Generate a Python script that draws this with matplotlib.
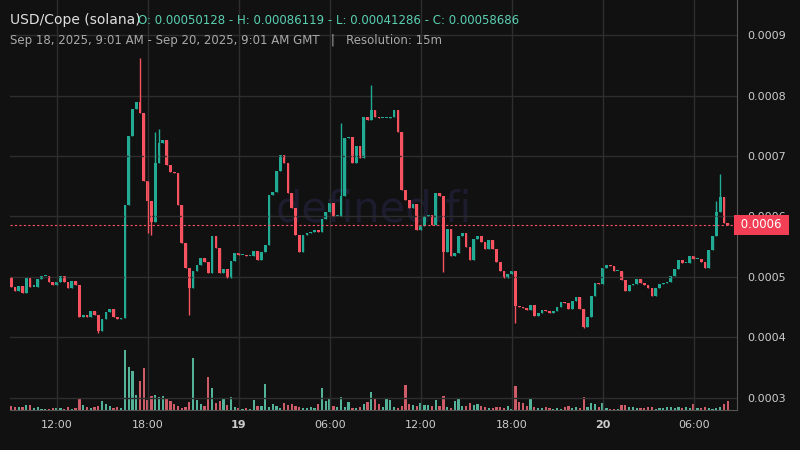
import matplotlib.pyplot as plt
import numpy as np

# prices in units of 1e-4, one 15m candle each, starting Sep 18 09:00
first_open = 5.00
closes = [
    4.84, 4.76, 4.85, 4.74, 4.99, 4.84, 4.84, 4.97, 5.01, 5.02,
    4.91, 4.86, 4.91, 5.01, 4.92, 4.81, 4.93, 4.86, 4.33, 4.37,
    4.33, 4.43, 4.37, 4.11, 4.31, 4.42, 4.47, 4.34, 4.30, 4.32,
    6.19, 7.33, 7.77, 7.89, 7.71, 6.58, 6.26, 5.91, 6.89, 7.21,
    7.26, 6.85, 6.74, 6.72, 6.19, 5.56, 5.14, 4.82, 5.09, 5.20,
    5.31, 5.24, 5.07, 5.67, 5.48, 5.06, 5.13, 4.99, 5.26, 5.40,
    5.36, 5.36, 5.34, 5.35, 5.43, 5.28, 5.41, 5.53, 6.36, 6.41,
    6.76, 7.02, 6.88, 6.38, 6.14, 5.69, 5.42, 5.69, 5.73, 5.75,
    5.76, 5.75, 5.95, 6.07, 6.22, 6.00, 6.01, 6.34, 7.29, 7.31,
    6.88, 7.17, 6.96, 7.65, 7.60, 7.76, 7.65, 7.63, 7.63, 7.63,
    7.65, 7.76, 7.39, 6.43, 6.27, 6.14, 6.21, 5.78, 5.84, 6.01,
    6.02, 5.86, 6.39, 6.34, 5.42, 5.79, 5.34, 5.39, 5.67, 5.73,
    5.50, 5.28, 5.62, 5.68, 5.58,
    5.47, 5.61, 5.47, 5.25, 5.09, 4.98, 5.05, 5.09, 4.52, 4.50,
    4.48, 4.45, 4.54, 4.36, 4.40, 4.45, 4.44, 4.41, 4.43, 4.50,
    4.58, 4.57, 4.47, 4.61, 4.66, 4.47, 4.18, 4.34, 4.68, 4.90,
    4.88, 5.14, 5.20, 5.18, 5.09, 5.09, 4.95, 4.76, 4.87, 4.88,
    4.96, 4.90, 4.87, 4.81, 4.68, 4.81, 4.88, 4.90, 4.91, 5.02,
    5.13, 5.28, 5.23, 5.23, 5.34, 5.29, 5.29, 5.25, 5.14, 5.45,
    5.67, 6.08, 6.33, 5.89, 5.86,
]
extra_highs = {34: 8.62, 95: 8.17, 38: 7.40, 39: 7.45, 87: 7.55, 187: 6.70, 186: 6.25}
extra_lows = {47: 4.37, 23: 4.08, 37: 5.70, 114: 5.08, 133: 4.24, 151: 4.15, 36: 5.72}

# volume bar heights (relative)
volumes = [
    4, 3, 3, 3, 5, 5, 2, 3, 1, 1, 1, 2, 2, 2, 1, 3, 1, 2, 12, 5,
    3, 2, 3, 4, 9, 6, 4, 2, 3, 2, 60, 43, 39, 15, 29, 42, 10, 14, 15, 13,
    14, 11, 9, 6, 4, 2, 3, 8, 52, 10, 6, 4, 33, 22, 7, 9, 12, 5, 13, 3,
    2, 1, 2, 1, 10, 4, 4, 26, 3, 6, 4, 2, 7, 5, 6, 4, 3, 2, 2, 3,
    2, 6, 22, 9, 12, 4, 3, 13, 3, 8, 2, 2, 3, 6, 8, 18, 12, 6, 3, 11,
    10, 3, 2, 4, 25, 6, 5, 4, 7, 5, 5, 4, 10, 4, 14, 3, 2, 9, 12, 4,
    4, 7, 5, 6, 4, 3, 2, 2, 3, 3, 2, 4, 1, 24, 8, 7, 4, 11, 3, 2,
    2, 3, 2, 1, 2, 1, 3, 4, 2, 3, 2, 13, 3, 7, 6, 3, 7, 2, 1, 1,
    1, 5, 5, 3, 3, 2, 2, 2, 3, 3, 1, 2, 2, 3, 3, 2, 3, 2, 3, 2,
    6, 2, 2, 3, 2, 1, 2, 3, 6, 9, 11, 17, 7, 2,
]

tick_pos = [12, 36, 60, 84, 108, 132, 156, 180]
tick_labels = ['12:00', '18:00', '19', '06:00', '12:00', '18:00', '20', '06:00']

UP = '#22ab94'
DOWN = '#f7525f'
BG = '#111111'

n = min(len(closes), len(volumes))
closes = np.array(closes[:n])
opens = np.concatenate([[first_open], closes[:-1]])
highs = np.maximum(opens, closes)
lows = np.minimum(opens, closes)
for k, v in extra_highs.items():
    if k < n:
        highs[k] = max(highs[k], v)
for k, v in extra_lows.items():
    if k < n:
        lows[k] = min(lows[k], v)
x = np.arange(n)
up = closes >= opens
cols = np.where(up, UP, DOWN)

fig = plt.figure(figsize=(8, 4.5), dpi=100, facecolor=BG)
ax = fig.add_axes([0.0125, 0.089, 0.909, 0.911], facecolor=BG)

vax = ax.twinx()
vax.bar(x, volumes[:n], width=0.6, color=np.where(up, '#5fd0b0', '#f06a78'), alpha=0.85)
vax.set_ylim(0, 410)
vax.axis('off')
ax.set_zorder(vax.get_zorder() + 1)
ax.patch.set_visible(False)
vax.patch.set_facecolor(BG)

ax.vlines(x, lows, highs, color=cols, lw=1)
body = np.maximum(np.abs(closes - opens), 0.02)
ax.bar(x, body, bottom=np.minimum(opens, closes), width=0.72, color=cols)

ax.set_xlim(-0.3, 191.5)
ax.set_ylim(2.80, 9.58)
ax.set_yticks(range(3, 10))
ax.yaxis.tick_right()
ax.set_yticklabels(['0.000%d' % v for v in range(3, 10)])
ax.set_xticks(tick_pos)
ax.set_xticklabels(tick_labels)
for lbl in ax.get_xticklabels():
    if lbl.get_text() in ('19', '20'):
        lbl.set_fontweight('bold')
ax.tick_params(colors='#cccccc', labelsize=8, length=0, pad=7)
ax.grid(color='#2e2e2e', lw=1)
for s in ['top', 'left']:
    ax.spines[s].set_visible(False)
for s in ['right', 'bottom']:
    ax.spines[s].set_color('#555555')

last = closes[-1]
ax.axhline(last, color=DOWN, lw=0.8, ls=(0, (2, 2)))
ax.text(1.0, last, ' 0.0006 ', transform=ax.get_yaxis_transform(), color='white',
        fontsize=8.5, va='center', ha='left', zorder=10,
        bbox=dict(boxstyle='square,pad=0.3', fc='#f23f55', ec='none'))

ax.text(0.5, 0.49, 'defined.fi', transform=ax.transAxes, fontsize=30,
        color='#1c1c2e', ha='center', va='center', zorder=0)

fig.text(0.0125, 0.955, 'USD/Cope (solana)', color='#e0e0e0', fontsize=10, va='center')
fig.text(0.172, 0.955, 'O: 0.00050128 - H: 0.00086119 - L: 0.00041286 - C: 0.00058686',
         color='#5ad0b0', fontsize=8.5, va='center')
fig.text(0.0125, 0.91, 'Sep 18, 2025, 9:01 AM - Sep 20, 2025, 9:01 AM GMT   |   Resolution: 15m',
         color='#aaaaaa', fontsize=8.5, va='center')

fig.savefig('out.png', dpi=100, facecolor=BG)
